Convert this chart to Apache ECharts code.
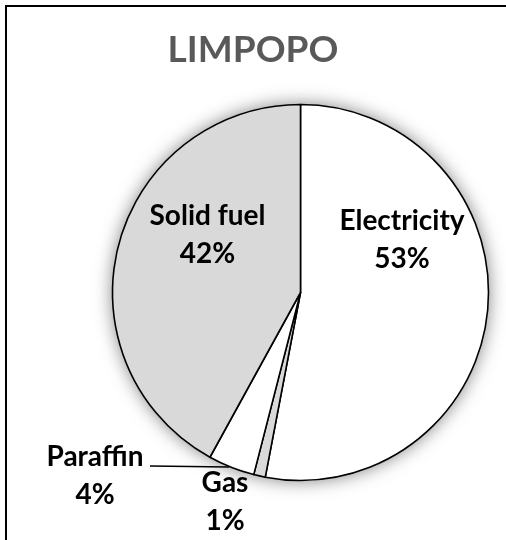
<!DOCTYPE html>
<html>
<head>
<meta charset="utf-8">
<script src="https://cdn.jsdelivr.net/npm/echarts@6/dist/echarts.min.js"></script>
<style>
html,body{margin:0;padding:0;background:#fff;}
#c{width:506px;height:540px;}
</style>
</head>
<body>
<div id="c"></div>
<script>
// ---- data ----
const titleText = 'LIMPOPO';
const categories = ['Electricity', 'Gas', 'Paraffin', 'Solid fuel'];
const values = [53, 1, 4, 42];

// ---- styles ----
const sliceColors = ['#ffffff', '#d9d9d9', '#ffffff', '#d9d9d9'];
const labelPos = {
  'Electricity': [402, 240],
  'Gas': [225, 502],
  'Paraffin': [95, 475.5],
  'Solid fuel': [207.5, 234.5]
};
const FONT = 'Lato';
const CX = 300.5, CY = 292.5, R = 188;

const chart = echarts.init(document.getElementById('c'), null, {renderer: 'canvas'});

const data = categories.map((name, i) => ({
  name: name,
  value: values[i],
  itemStyle: {color: sliceColors[i]},
  labelLine: {show: name === 'Paraffin'}
}));

chart.setOption({
  animation: false,
  backgroundColor: '#ffffff',
  title: {
    text: titleText,
    left: 'center',
    top: 27,
    textStyle: {fontFamily: FONT, fontWeight: 'bold', fontSize: 37, color: '#595959'}
  },
  graphic: [{
    type: 'rect',
    shape: {x: 6, y: 6, width: 700, height: 700},
    style: {fill: null, stroke: '#000', lineWidth: 2},
    silent: true
  }],
  series: [
    {
      type: 'pie',
      silent: true,
      center: [CX, CY],
      radius: R,
      z: 1,
      label: {show: false},
      labelLine: {show: false},
      itemStyle: {color: '#fff', shadowBlur: 18, shadowColor: 'rgba(0,0,0,0.5)'},
      data: [{value: 1, name: ''}]
    },
    {
      type: 'pie',
      z: 2,
      center: [CX, CY],
      radius: R,
      startAngle: 90,
      clockwise: true,
      avoidLabelOverlap: false,
      itemStyle: {borderColor: '#000', borderWidth: 1.6},
      label: {
        show: true,
        position: 'outside',
        formatter: '{b}\n{c}%',
        fontFamily: FONT,
        fontWeight: 'bold',
        fontSize: 28,
        lineHeight: 38,
        color: '#000',
        align: 'center'
      },
      labelLine: {show: false, length: 1, length2: 70, lineStyle: {color: '#000', width: 1.6}},
      labelLayout: function (params) {
        const name = categories[params.dataIndex];
        const p = labelPos[name];
        const out = {x: p[0], y: p[1], align: 'center', verticalAlign: 'middle'};
        if (name === 'Paraffin') {
          out.labelLinePoints = [[229, 467], [190, 466.5], [150, 466]];
        }
        return out;
      },
      data: data
    }
  ]
});
</script>
</body>
</html>
